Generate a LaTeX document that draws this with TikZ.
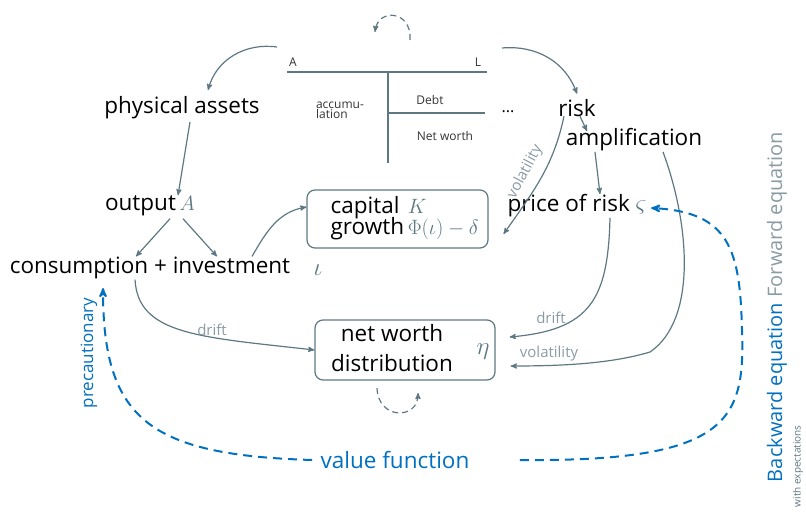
\documentclass[tikz,border=0pt]{standalone}
\usepackage{amsmath}
\usepackage{fontspec}
\setmainfont{Open Sans}
\usetikzlibrary{arrows,positioning}
\definecolor{slate}{HTML}{5D7883}
\definecolor{lblgray}{HTML}{8A9BA3}
\definecolor{vfblue}{HTML}{0070C0}

\begin{document}
\begin{tikzpicture}[->,>=stealth',x=1pt,y=1pt,line width=1.2pt,draw=slate,
    big/.style={font=\fontsize{22.5}{25}\selectfont, text=black, inner sep=2pt},
    lbl/.style={font=\fontsize{15}{17}\selectfont, text=lblgray},
    tacc/.style={font=\fontsize{12}{12}\selectfont, text=black!80},
    sym/.style={text=slate, font=\fontsize{24}{26}\selectfont},
    blk/.style={rectangle, rounded corners=8pt, draw=slate, line width=1.2pt},
    vf/.style={->, draw=vfblue, line width=2pt, dash pattern=on 9pt off 6pt},
    loop/.style={->, draw=slate, line width=1.2pt, dash pattern=on 6pt off 4pt}]

    \useasboundingbox (0,0) rectangle (806,-514);

    % balance sheet
    \draw[-, line width=2pt] (287,-72) coordinate (tA) -- (487,-72) coordinate (tL);
    \draw[-, line width=2pt] (388,-72) -- (388,-163);
    \draw[-, line width=2pt] (388,-113) -- (485,-113);
    \node[tacc] (labA) at (293,-62) {A};
    \node[tacc] (labL) at (478,-62) {L};
    \node[tacc] (debt) at (430,-100) {Debt};
    \node[tacc] (networth) at (445,-136) {Net worth};
    \node[tacc, align=left, font=\fontsize{12}{10}\selectfont] (accum) at (340,-110)
    {accumu-\\lation};
    \node[big, font=\fontsize{16}{16}\selectfont] (dots) at (508,-112) {...};
    \coordinate (tleft) at (277,-47);
    \coordinate (tright) at (502,-48);

    \draw[loop] (410,-40) .. controls (412,-10) and (378,-8) .. (375,-32);

    \node[big] (phys) at (182,-108) {physical assets};
    \node[big] (risk) at (577,-108) {risk};
    \node[big] (ampl) at (634,-140) {amplification};
    \node[big] (output) at (150,-206) {output\,\textcolor{slate}{$A$}};
    \node[big] (price) at (577,-206) {price of risk \textcolor{slate}{\fontsize{28}{28}\selectfont$\varsigma$}};
    \node[big] (cons) at (150,-268) {consumption + investment};
    \node[sym] (iota) at (318,-270) {$\iota$};

    \node[blk, minimum width=181, minimum height=58] (capital) at (397.5,-219) {};
    \node[big, anchor=west] (captext) at (328,-219)
    {\begin{tabular}{@{}l@{\,}l@{}}
      capital & \textcolor{slate}{$K$} \\[-4pt]
      growth & \textcolor{slate}{$\Phi(\iota)-\delta$}
    \end{tabular}};

    \node[blk, minimum width=180, minimum height=60] (nw) at (405,-350) {};
    \node[big, align=center, font=\fontsize{22.5}{30}\selectfont] (nwtext) at (392,-348)
    {net worth\\distribution};
    \node[sym] (eta) at (483,-352) {$\eta$};

    \draw[loop] (377,-388) .. controls (378,-420) and (418,-420) .. (418,-393);

    \draw (tleft) to[out=172, in=75] ([xshift=26,yshift=4]phys.north);
    \draw (tright) to[out=5, in=110] ([yshift=3]risk.north);
    \draw ([xshift=8]phys.south) -- ([xshift=28,yshift=-2]output.north);
    \draw ([xshift=20]output.south) -- ([xshift=-14,yshift=-2]cons.north);
    \draw ([xshift=33]output.south) -- ([xshift=67,yshift=-2]cons.north);
    \draw ([xshift=102,yshift=-2]cons.north) to[out=60, in=190] ([yshift=12]capital.west);
    \draw ([xshift=3,yshift=3]risk.south) -- ([xshift=-47,yshift=-5]ampl.north);
    \draw ([xshift=-39,yshift=2]ampl.south) -- ([xshift=23,yshift=-2]price.north);

    \draw ([xshift=-13,yshift=3]risk.south) to[out=-102, in=55]
    ([xshift=15,yshift=-15]capital.east);
    \node[lbl, rotate=62, inner sep=0pt] (volcap) at (525,-172) {volatility};

    \draw ([xshift=29,yshift=2]ampl.south) .. controls (690,-225) and (697,-320) ..
    (650,-352) .. controls (610,-364) and (560,-366) .. ([xshift=15,yshift=-16]nw.east);
    \node[lbl] (volnw) at (549,-354) {volatility};

    \draw ([xshift=33,yshift=2]price.south) .. controls (608,-300) and (590,-330) ..
    ([xshift=14,yshift=13]nw.east);
    \node[lbl] (driftr) at (551,-318) {drift};

    \draw ([xshift=-15,yshift=2]cons.south) .. controls (138,-335) and (200,-337) ..
    (nw.west);
    \node[lbl] (driftl) at (212,-330) {drift};

    \node[big, text=vfblue] (value) at (395,-460) {value function};
    \draw[vf] ([xshift=-6]value.west) .. controls (150,-455) and (103,-420) ..
    (103,-288);
    \node[lbl, text=vfblue, rotate=90, font=\fontsize{17}{19}\selectfont] (precaut)
    at (89,-353) {precautionary};
    \draw[vf] ([xshift=48]value.east) .. controls (730,-462) and (745,-420) ..
    (742,-330) .. controls (740,-250) and (730,-212) .. ([xshift=2,yshift=-2]price.east);

    \node[rotate=90, anchor=west, text=lblgray, font=\fontsize{20}{22}\selectfont]
    (eqs) at (777,-486) {\textcolor{vfblue}{Backward equation} Forward equation};
    \node[rotate=90, anchor=west, text=slate, font=\fontsize{10}{11}\selectfont]
    (expect) at (798,-511) {with expectations};

\end{tikzpicture}
\end{document}
